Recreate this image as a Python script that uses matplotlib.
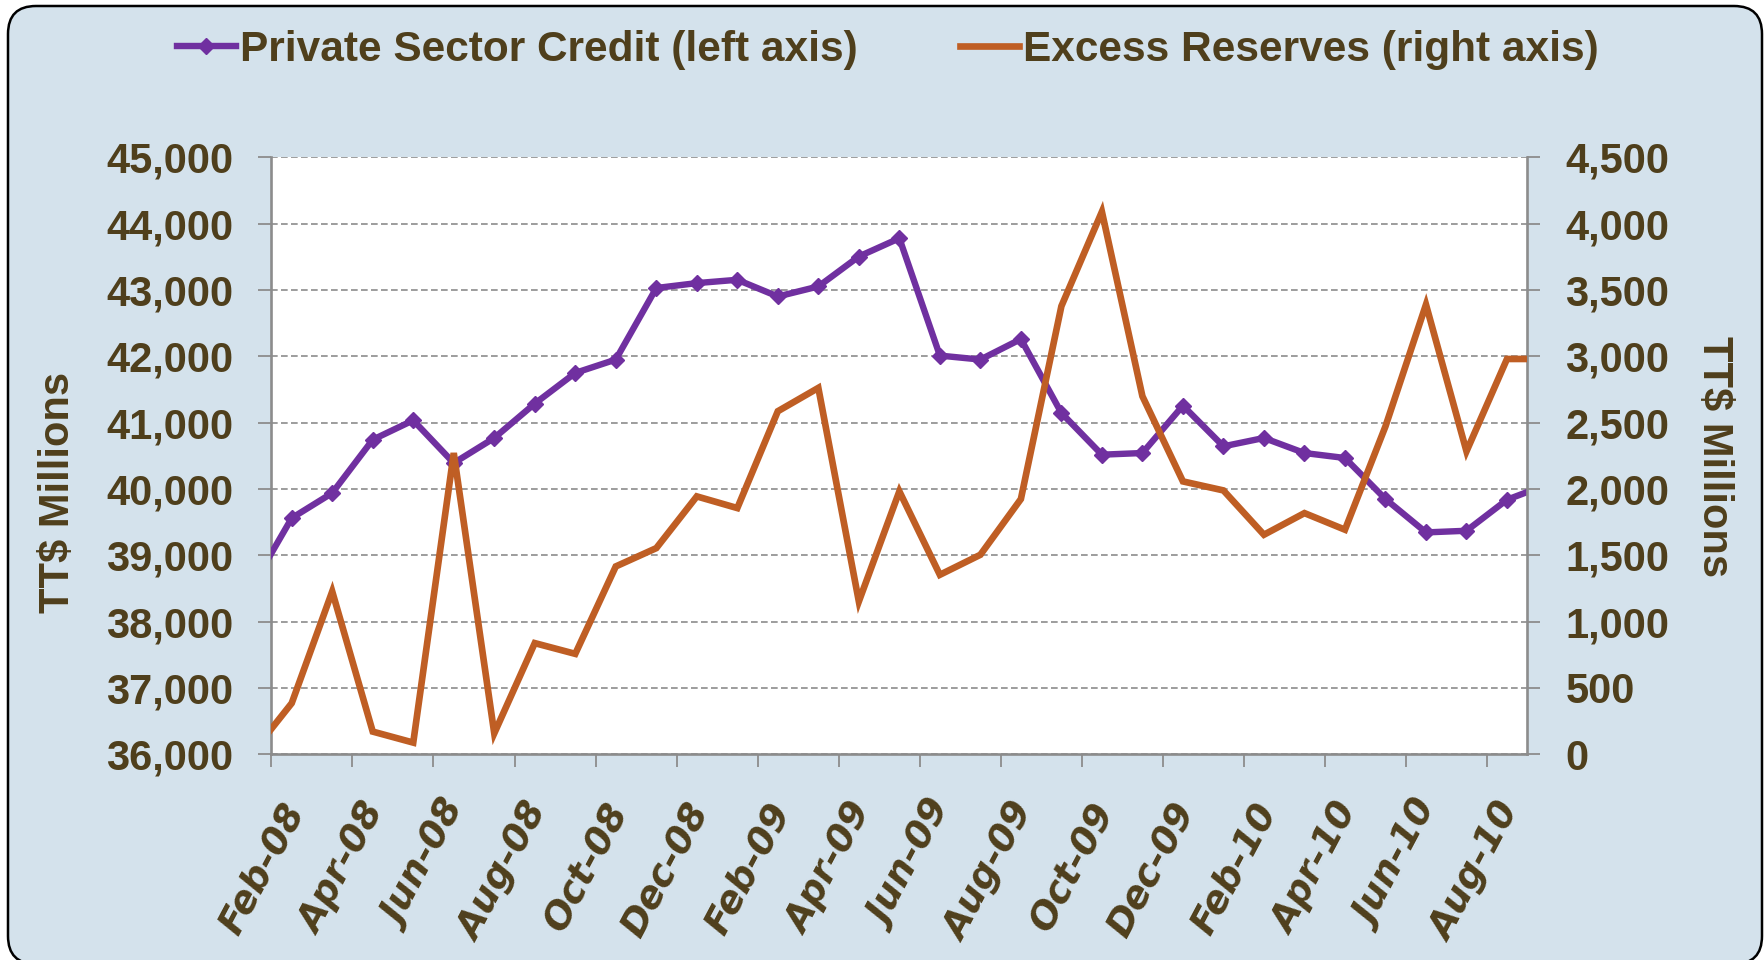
import matplotlib
matplotlib.use("Agg")
import matplotlib.pyplot as plt
import matplotlib.transforms as mtransforms
from matplotlib.patches import FancyBboxPatch
from matplotlib.lines import Line2D
from matplotlib.ticker import StrMethodFormatter
import numpy as np

# monthly data, Jan-08 .. Sep-10 (first and last month fall outside the axis and are clipped)
months = ["Jan-08", "Feb-08", "Mar-08", "Apr-08", "May-08", "Jun-08", "Jul-08", "Aug-08",
          "Sep-08", "Oct-08", "Nov-08", "Dec-08", "Jan-09", "Feb-09", "Mar-09", "Apr-09",
          "May-09", "Jun-09", "Jul-09", "Aug-09", "Sep-09", "Oct-09", "Nov-09", "Dec-09",
          "Jan-10", "Feb-10", "Mar-10", "Apr-10", "May-10", "Jun-10", "Jul-10", "Aug-10",
          "Sep-10"]
private_credit = [38505, 39561, 39939, 40743, 41035, 40391, 40769, 41287, 41750, 41951,
                  43030, 43104, 43154, 42902, 43053, 43505, 43780, 42011, 41951, 42260,
                  41146, 40517, 40542, 41257, 40643, 40769, 40542, 40467, 39848, 39345,
                  39370, 39838, 40070]
excess_reserves = [0, 385, 1227, 171, 88, 2271, 158, 838, 757, 1416, 1554, 1944, 1856,
                   2586, 2762, 1152, 1982, 1353, 1504, 1924, 3378, 4090, 2699, 2057, 1989,
                   1655, 1818, 1693, 2472, 3390, 2284, 2980, 2980]
shown_labels = months[1:32:2]   # Feb-08, Apr-08, ... Aug-10

txt = "#4f3f1c"
purple = "#7030a0"
orange = "#bf5e24"
grey = "#8c8c8c"
bg = "#d4e2ec"

fig = plt.figure(figsize=(17.65, 9.6), dpi=100, facecolor="white")

# rounded light blue frame
frame = FancyBboxPatch((8, -4), 1754, 958, boxstyle="round,pad=0,rounding_size=28",
                       transform=mtransforms.IdentityTransform(), facecolor=bg,
                       edgecolor="black", linewidth=1.8, zorder=-10)
fig.add_artist(frame)

ax1 = fig.add_axes([0.1538, 0.2143, 0.7115, 0.6218])
ax1.set_facecolor("white")
ax2 = ax1.twinx()

x = np.arange(len(months)) - 1

ax1.plot(x, private_credit, color=purple, lw=4.6, marker="D", markersize=8.5,
         solid_joinstyle="miter", zorder=3)
ax2.plot(x, excess_reserves, color=orange, lw=4.8, solid_joinstyle="miter", zorder=3)

ax1.set_xlim(-0.5, 30.5)
ax1.set_ylim(36000, 45000)
ax2.set_ylim(0, 4500)
ax1.set_yticks(np.arange(36000, 45001, 1000))
ax2.set_yticks(np.arange(0, 4501, 500))
ax1.yaxis.set_major_formatter(StrMethodFormatter("{x:,.0f}"))
ax2.yaxis.set_major_formatter(StrMethodFormatter("{x:,.0f}"))

ax1.grid(axis="y", color=grey, lw=1.2, linestyle=(0, (4, 2)))
ax1.set_axisbelow(True)

# tick marks between categories, labels on categories
ax1.set_xticks(np.arange(-0.5, 30, 2))
ax1.set_xticklabels([])
ax1.set_xticks(np.arange(0, 31, 2), shown_labels, minor=True)
ax1.tick_params(axis="x", which="major", length=9.5, width=1.3, color=grey, direction="out")
ax1.tick_params(axis="x", which="minor", length=0, pad=37)

for lbl in ax1.get_xticklabels(minor=True):
    lbl.set_rotation(62)
    lbl.set_rotation_mode("anchor")
    lbl.set_ha("right")
    lbl.set_va("center")
    lbl.set_fontfamily("DejaVu Sans")
    lbl.set_fontweight("bold")
    lbl.set_fontstyle("oblique")
    lbl.set_fontsize(27)
    lbl.set_color(txt)
    lbl.set_transform(lbl.get_transform() +
                      mtransforms.ScaledTranslation(0.04, 0, fig.dpi_scale_trans))

for ax in (ax1, ax2):
    ax.tick_params(axis="y", length=9.5, width=1.3, color=grey, direction="out",
                   pad=18, labelsize=30, labelcolor=txt)
    for lbl in ax.get_yticklabels():
        lbl.set_fontfamily("Liberation Sans")
        lbl.set_fontweight("bold")
    ax.spines["top"].set_visible(False)
    for s in ax.spines.values():
        s.set_color(grey)
        s.set_linewidth(1.9)

ax2.spines["left"].set_visible(False)
ax2.spines["bottom"].set_visible(False)
ax1.spines["right"].set_visible(False)

lab_font = dict(family="Liberation Sans", weight="bold", size=30, color=txt)
fig.text(58.5 / 1765, 0.4875, "TT$ Millions", rotation=90, ha="center", va="center", **lab_font)
fig.text(1714 / 1765, 0.524, "TT$ Millions", rotation=270, ha="center", va="center", **lab_font)

handles = [Line2D([], [], color=purple, lw=4.6, marker="D", markersize=8.5),
           Line2D([], [], color=orange, lw=4.8)]
leg = fig.legend(handles, ["Private Sector Credit (left axis)", "Excess Reserves (right axis)"],
                 loc="center", bbox_to_anchor=(0.503, 0.948), ncol=2, frameon=False,
                 handlelength=1.4, handletextpad=0.1, columnspacing=2.4,
                 prop=dict(family="Liberation Sans", weight="bold", size=30.5))
for t in leg.get_texts():
    t.set_color(txt)

fig.savefig("out.png", dpi=100, facecolor="white")
